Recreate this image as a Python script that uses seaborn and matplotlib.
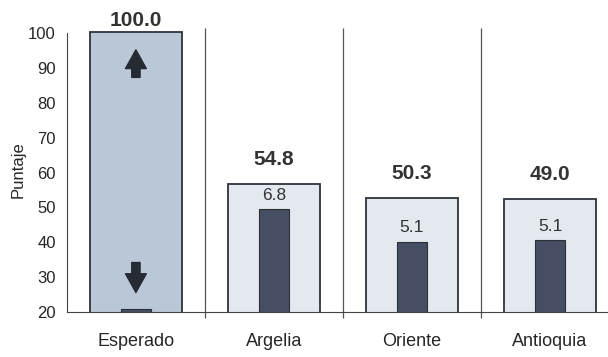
import numpy as np
import pandas as pd
import matplotlib
matplotlib.use("Agg")
import matplotlib.pyplot as plt
import seaborn as sns

# Data
categories = ['Esperado', 'Argelia', 'Oriente', 'Antioquia']
outer_values = [100.3, 56.7, 52.7, 52.4]
inner_values = [21.0, 49.5, 40.2, 40.6]
outer_labels = ['100.0', '54.8', '50.3', '49.0']
inner_labels = ['', '6.8', '5.1', '5.1']

sns.set_style('white')
plt.rcParams['font.family'] = ['Liberation Sans', 'DejaVu Sans']

df = pd.DataFrame({'cat': categories, 'outer': outer_values, 'inner': inner_values})

fig = plt.figure(figsize=(6.08, 3.57), dpi=100)
ax = fig.add_axes([0.110, 0.126, 0.890, 0.796])

outer_pal = {'Esperado': '#b9c7d6', 'Argelia': '#e3e9ef', 'Oriente': '#e3e9ef', 'Antioquia': '#e3e9ef'}
sns.barplot(data=df, x='cat', y='outer', hue='cat', palette=outer_pal, legend=False,
            width=0.67, edgecolor='#2e333b', linewidth=1.3, saturation=1, ax=ax)
sns.barplot(data=df, x='cat', y='inner', color='#464e64', width=0.22,
            edgecolor='#2a2f38', linewidth=0.8, saturation=1, ax=ax)

ax.set_ylim(20, 101.5)
ax.set_xlim(-0.5, 3.42)
ax.set_yticks(np.arange(20, 101, 10))
ax.tick_params(axis='y', labelsize=12, length=5, width=0.9, color='#444', direction='out', pad=3)
ax.tick_params(axis='x', labelsize=13, length=0, pad=15)
ax.set_xlabel('')
ax.set_ylabel('Puntaje', fontsize=12, labelpad=2)

for s in ['top', 'right']:
    ax.spines[s].set_visible(False)
ax.spines['left'].set_bounds(20, 100)
ax.spines['left'].set_color('#444')
ax.spines['bottom'].set_color('#444')

# separators between categories
ax.vlines([0.5, 1.5, 2.5], 18.2, 101.5, colors='#555', linewidth=0.9, clip_on=False)

# value labels
for i, (v, lab) in enumerate(zip(outer_values, outer_labels)):
    off = 3.4 if i == 0 else 6.9
    ax.text(i, v + off, lab, ha='center', va='center', fontsize=15,
            fontweight='bold', color='#333', clip_on=False)
for i, (v, lab) in enumerate(zip(inner_values, inner_labels)):
    if lab:
        ax.text(i, v + 3.9, lab, ha='center', va='center', fontsize=12.5, color='#333')

# arrows in the Esperado bar
arrow = dict(arrowstyle='simple,head_length=0.9,head_width=1.0,tail_width=0.4',
             color='#252a33', mutation_scale=15)
ax.annotate('', xy=(0, 96.0), xytext=(0, 86.5), arrowprops=arrow)
ax.annotate('', xy=(0, 24.8), xytext=(0, 35.0), arrowprops=arrow)

fig.savefig('out.png', dpi=100)
